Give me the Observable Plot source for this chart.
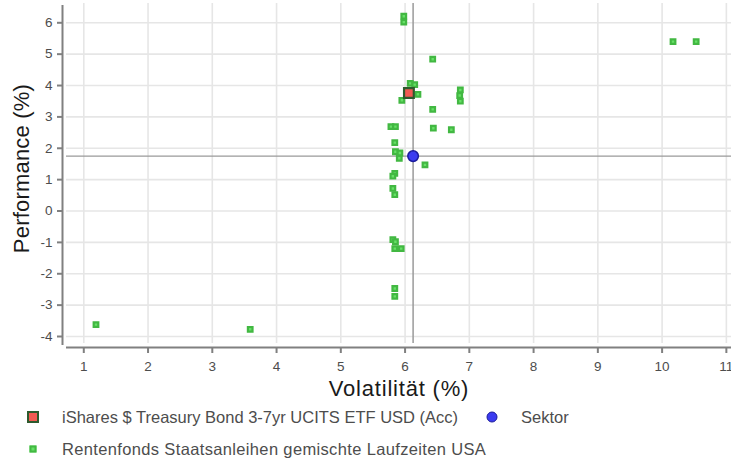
<!DOCTYPE html>
<html><head><meta charset="utf-8">
<script src="https://cdn.jsdelivr.net/npm/d3@7"></script>
<script src="https://cdn.jsdelivr.net/npm/@observablehq/plot@0.6"></script>
<style>
body{margin:0;background:#fff;font-family:"Liberation Sans",Arial,sans-serif;}
#wrap{width:731px;}
#legend{position:relative;height:55px;width:731px;color:#4d4d4d;font-size:16.5px;}
.lbl{position:absolute;transform:translateY(-50%);white-space:nowrap;}
.ic{position:absolute;transform:translate(-50%,-50%);box-sizing:border-box;}
</style></head><body><div id="wrap"><div id="chart"></div><div id="legend"></div></div>
<script>
// peer group (Rentenfonds Staatsanleihen gemischte Laufzeiten USA)
const peerVol = [5.98, 5.98, 6.43, 6.08, 6.15, 6.20, 5.95, 6.86, 6.85, 6.86, 6.43, 5.78, 5.85, 6.44, 6.72, 5.84, 5.85, 5.92, 5.91, 6.31, 5.84, 5.81, 5.81, 5.84, 5.81, 5.85, 5.84, 5.94, 5.84, 5.84, 1.19, 3.59, 10.17, 10.53];
const peerPerf = [6.21, 6.02, 4.84, 4.07, 4.03, 3.72, 3.53, 3.86, 3.68, 3.50, 3.24, 2.69, 2.69, 2.64, 2.59, 2.18, 1.89, 1.85, 1.68, 1.47, 1.20, 1.11, 0.72, 0.52, -0.91, -0.98, -1.20, -1.20, -2.47, -2.72, -3.62, -3.77, 5.40, 5.40];
const fundName = "iShares $ Treasury Bond 3-7yr UCITS ETF USD (Acc)";
const fundVol = [6.06];
const fundPerf = [3.76];
const sectorName = "Sektor";
const sectorVol = [6.125];
const sectorPerf = [1.75];
const peerName = "Rentenfonds Staatsanleihen gemischte Laufzeiten USA";
const xTicks = [1, 2, 3, 4, 5, 6, 7, 8, 9, 10, 11];
const yTicks = [-4, -3, -2, -1, 0, 1, 2, 3, 4, 5, 6];
const xTitle = "Volatilität (%)";
const yTitle = "Performance (%)";
const xDomain = [0.731, 11.08];
const yDomain = [-4.223, 6.615];

const peers = peerVol.map((v, i) => ({vol: v, perf: peerPerf[i]}));
const fund = fundVol.map((v, i) => ({vol: v, perf: fundPerf[i]}));
const sector = sectorVol.map((v, i) => ({vol: v, perf: sectorPerf[i]}));

const axisStroke = "#808080";
const chart = Plot.plot({
  width: 731,
  height: 404,
  marginLeft: 66,
  marginRight: 0,
  marginTop: 3,
  marginBottom: 61,
  style: {fontFamily: "'Liberation Sans', Arial, sans-serif", fontSize: "13.5px", background: "#fff"},
  x: {domain: xDomain, ticks: xTicks},
  y: {domain: yDomain, ticks: yTicks},
  marks: [
    Plot.ruleX(xTicks, {x: d => d, y1: yDomain[0], y2: yDomain[1], stroke: "#e6e6e6", strokeWidth: 1.6}),
    Plot.ruleY(yTicks, {y: d => d, x1: xDomain[0], x2: xDomain[1], stroke: "#e6e6e6", strokeWidth: 1.6}),
    Plot.ruleX(sector, {x: "vol", y1: yDomain[0], y2: yDomain[1], stroke: "#9a9a9a", strokeWidth: 1.5}),
    Plot.ruleY(sector, {y: "perf", x1: xDomain[0], x2: xDomain[1], stroke: "#9a9a9a", strokeWidth: 1.3}),
    Plot.ruleX([xDomain[0]], {x: d => d, y1: yDomain[0], y2: yDomain[1], dx: -4, dy: 2, stroke: axisStroke, strokeWidth: 2}),
    Plot.ruleY([yDomain[0]], {y: d => d, x1: xDomain[0], x2: xDomain[1], dy: 4, stroke: axisStroke, strokeWidth: 2}),
    Plot.axisX({ticks: xTicks, tickSize: 6, tickPadding: 8, dy: 4, tickFormat: d => String(d), stroke: axisStroke, fill: "#4d4d4d", strokeWidth: 2, label: null}),
    Plot.axisY({ticks: yTicks, tickSize: 5, tickPadding: 5, dx: -4, tickFormat: d => String(d), stroke: axisStroke, fill: "#4d4d4d", strokeWidth: 2, label: null}),
    Plot.text([xTitle], {text: d => d, frameAnchor: "bottom", lineAnchor: "middle", textAnchor: "middle", dy: 45, fontSize: 22, fill: "#1a1a1a"}),
    Plot.text([yTitle], {text: d => d, frameAnchor: "left", lineAnchor: "middle", textAnchor: "middle", dx: -45, dy: -5, rotate: -90, fontSize: 22, fill: "#1a1a1a"}),
    Plot.dot(peers, {x: "vol", y: "perf", symbol: "square", r: 2.6, fill: "#66e066", stroke: "#42b842", strokeWidth: 2.2}),
    Plot.dot(fund, {x: "vol", y: "perf", symbol: "square", r: 5.5, fill: "#f25a52", stroke: "#2d5a2d", strokeWidth: 2.2}),
    Plot.dot(sector, {x: "vol", y: "perf", symbol: "circle", r: 5.3, fill: "#3b3bf0", stroke: "#1c1c9c", strokeWidth: 1.5})
  ]
});
chart.querySelectorAll("text").forEach(t => {
  if (t.textContent === xTitle) t.setAttribute("letter-spacing", "0.8px");
  if (t.textContent === yTitle) t.setAttribute("letter-spacing", "0.2px");
});
document.getElementById("chart").appendChild(chart);

const legend = document.getElementById("legend");
legend.innerHTML = `
  <div class="ic" style="left:33px;top:13px;width:12px;height:12px;background:#f25a52;border:2px solid #2d5a2d;"></div>
  <div class="lbl" style="left:62px;top:13px;">${fundName}</div>
  <div class="ic" style="left:492px;top:13px;width:11px;height:11px;border-radius:50%;background:#3b3bf0;border:1.5px solid #1c1c9c;"></div>
  <div class="lbl" style="left:521px;top:13px;">${sectorName}</div>
  <div class="ic" style="left:33px;top:45px;width:7px;height:7px;background:#66e066;border:2px solid #42b842;"></div>
  <div class="lbl" style="left:62px;top:45px;letter-spacing:0.35px;">${peerName}</div>
`;
</script></body></html>
